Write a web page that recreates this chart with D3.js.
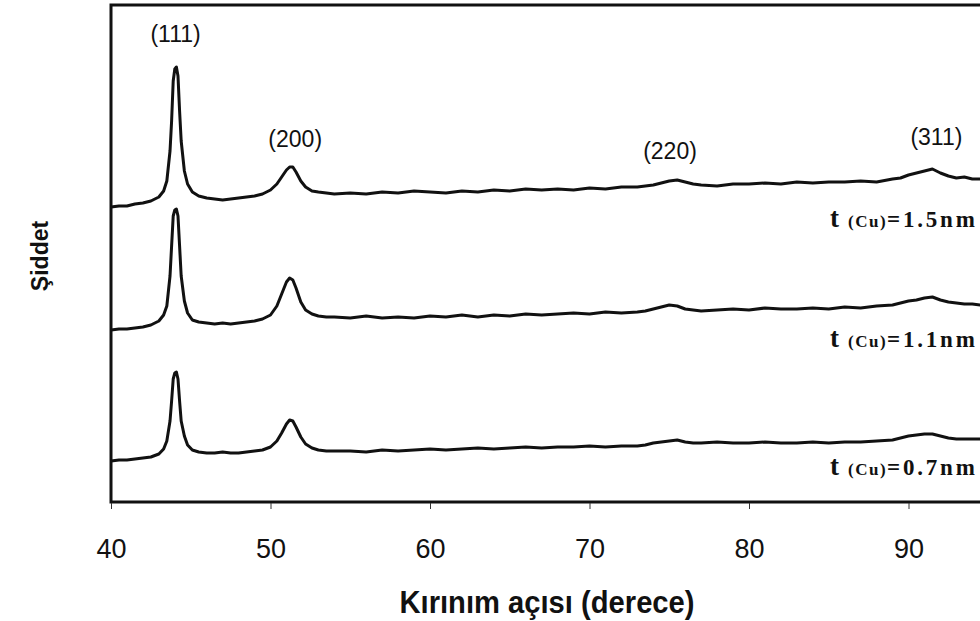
<!DOCTYPE html>
<html>
<head>
<meta charset="utf-8">
<script src="https://cdn.jsdelivr.net/npm/d3@7"></script>
<style>
  body { margin: 0; background: #fff; }
  svg { display: block; }
</style>
</head>
<body>
<svg id="chart" width="980" height="621"></svg>
<script>
// 2theta values (degree), shared by all three scans
const angles = [40, 40.5, 41, 41.5, 42, 42.5, 43, 43.3, 43.5, 43.7, 43.8, 43.9, 44.0, 44.1, 44.2, 44.3, 44.4, 44.6, 44.8, 45.1,
  45.5, 46, 46.5, 47, 47.5, 48, 48.5, 49, 49.5, 50, 50.4, 50.7, 51.0, 51.2, 51.4, 51.6, 51.9, 52.2, 52.6, 53,
  53.5, 54, 55, 56, 57, 58, 59, 60, 61, 62, 63, 64, 65, 66, 67, 68, 69, 70, 71, 72,
  73, 73.5, 74, 74.5, 75, 75.5, 76, 76.5, 77, 78, 79, 80, 81, 82, 83, 84, 85, 86, 87, 88,
  89, 89.5, 90, 90.5, 91, 91.5, 92, 92.5, 93, 93.5, 94, 94.5, 95];

// intensities (a.u., curves already stacked)
const cu15 = [295, 296, 296, 298, 299, 301, 305, 311, 321, 351, 381, 421, 433, 435, 426, 391, 361, 331, 318, 310,
  306, 304, 303, 302, 303, 304, 305, 306, 308, 312, 318, 325, 332, 335, 335, 330, 321, 315, 311, 310,
  309, 308, 309, 308, 310, 309, 311, 310, 309, 311, 310, 312, 311, 313, 312, 313, 312, 314, 313, 315,
  315, 316, 317, 319, 321, 322, 320, 318, 317, 316, 318, 318, 319, 318, 320, 319, 320, 320, 321, 320,
  323, 324, 327, 329, 331, 333, 329, 326, 324, 325, 323, 323, 323];
const cu11 = [172, 173, 173, 174, 175, 177, 181, 187, 196, 226, 256, 286, 292, 293, 286, 256, 226, 201, 189, 182,
  180, 179, 178, 179, 178, 179, 180, 181, 183, 187, 196, 208, 220, 224, 222, 214, 200, 192, 188, 186,
  185, 185, 184, 186, 184, 185, 184, 186, 185, 187, 185, 187, 186, 188, 187, 188, 189, 188, 190, 189,
  190, 191, 193, 195, 197, 196, 193, 192, 191, 192, 193, 192, 194, 193, 193, 194, 193, 195, 194, 196,
  197, 199, 201, 202, 204, 205, 202, 200, 199, 198, 198, 197, 198];
const cu07 = [41, 42, 42, 43, 44, 45, 48, 53, 61, 81, 101, 123, 129, 130, 123, 101, 81, 66, 57, 52,
  50, 49, 49, 50, 49, 49, 50, 51, 52, 55, 61, 69, 78, 82, 81, 75, 65, 58, 54, 52,
  51, 51, 51, 50, 52, 51, 52, 53, 52, 53, 54, 53, 54, 55, 54, 55, 55, 56, 55, 56,
  56, 57, 59, 60, 61, 62, 60, 59, 59, 60, 59, 59, 60, 59, 59, 60, 59, 60, 60, 61,
  62, 64, 66, 67, 68, 68, 66, 64, 63, 63, 63, 63, 63];

const scans = [cu15, cu11, cu07];
const scanLabels = ["=1.5nm", "=1.1nm", "=0.7nm"];
const peakLabels = ["(111)", "(200)", "(220)", "(311)"];
const peakAngles = [44.3, 51.8, 75.3, 92.0];
const peakLabelHeights = [460, 355, 343, 357];
const xTicks = [40, 50, 60, 70, 80, 90];

const svg = d3.select("#chart");
const plotLeft = 111, plotTop = 5, plotBottom = 502;

const x = d3.scaleLinear().domain([40, 100]).range([plotLeft, plotLeft + 60 * 15.95]);
const y = d3.scaleLinear().domain([0, 497]).range([plotBottom, plotTop]);

// frame (right edge falls outside of the picture)
svg.append("path")
  .attr("d", `M ${x(100)} ${plotTop} L ${plotLeft} ${plotTop} L ${plotLeft} ${plotBottom} L ${x(100)} ${plotBottom}`)
  .attr("fill", "none")
  .attr("stroke", "#111")
  .attr("stroke-width", 3);

// x axis: small ticks below the frame, no domain line
const xAxis = svg.append("g")
  .attr("transform", `translate(0,${plotBottom + 1})`)
  .call(d3.axisBottom(x).tickValues(xTicks).tickSize(6).tickPadding(30).tickFormat(d3.format("d")));
xAxis.select(".domain").remove();
xAxis.selectAll("line").attr("stroke", "#333").attr("stroke-width", 1);
xAxis.selectAll("text")
  .attr("font-family", "Liberation Sans, Arial, sans-serif")
  .attr("font-size", 27)
  .attr("fill", "#111");

const line = d3.line()
  .x((d, i) => x(angles[i]))
  .y(d => y(d));

scans.forEach(function(s) {
  svg.append("path")
    .datum(s)
    .attr("d", line)
    .attr("fill", "none")
    .attr("stroke", "#111")
    .attr("stroke-width", 3)
    .attr("stroke-linejoin", "round");
});

// Miller indices above the peaks
peakLabels.forEach(function(lbl, i) {
  svg.append("text")
    .attr("x", x(peakAngles[i]) - 4)
    .attr("y", y(peakLabelHeights[i]))
    .attr("text-anchor", "middle")
    .attr("font-family", "Liberation Sans, Arial, sans-serif")
    .attr("font-size", 23)
    .attr("fill", "#111")
    .text(lbl);
});

// thickness labels, serif like the original
const labelY = [227, 347, 475];
scanLabels.forEach(function(lbl, i) {
  const t = svg.append("text")
    .attr("x", 830)
    .attr("y", labelY[i])
    .attr("font-family", "Liberation Serif, Times New Roman, serif")
    .attr("font-weight", "bold")
    .attr("fill", "#111");
  t.append("tspan").attr("font-size", 27).text("t");
  t.append("tspan").attr("dx", 9).attr("font-size", 17).attr("letter-spacing", 1.5).text("(Cu)");
  t.append("tspan").attr("font-size", 23).attr("letter-spacing", 2.8).text(lbl);
});

// axis titles
svg.append("text")
  .attr("x", 547)
  .attr("y", 613)
  .attr("text-anchor", "middle")
  .attr("font-family", "Liberation Sans, Arial, sans-serif")
  .attr("font-size", 32)
  .attr("font-weight", "bold")
  .attr("textLength", 295)
  .attr("lengthAdjust", "spacingAndGlyphs")
  .attr("fill", "#111")
  .text("Kırınım açısı (derece)");

svg.append("text")
  .attr("transform", "translate(48,256) rotate(-90)")
  .attr("text-anchor", "middle")
  .attr("font-family", "Liberation Sans, Arial, sans-serif")
  .attr("font-size", 23)
  .attr("font-weight", "bold")
  .attr("fill", "#111")
  .text("Şiddet");
</script>
</body>
</html>
